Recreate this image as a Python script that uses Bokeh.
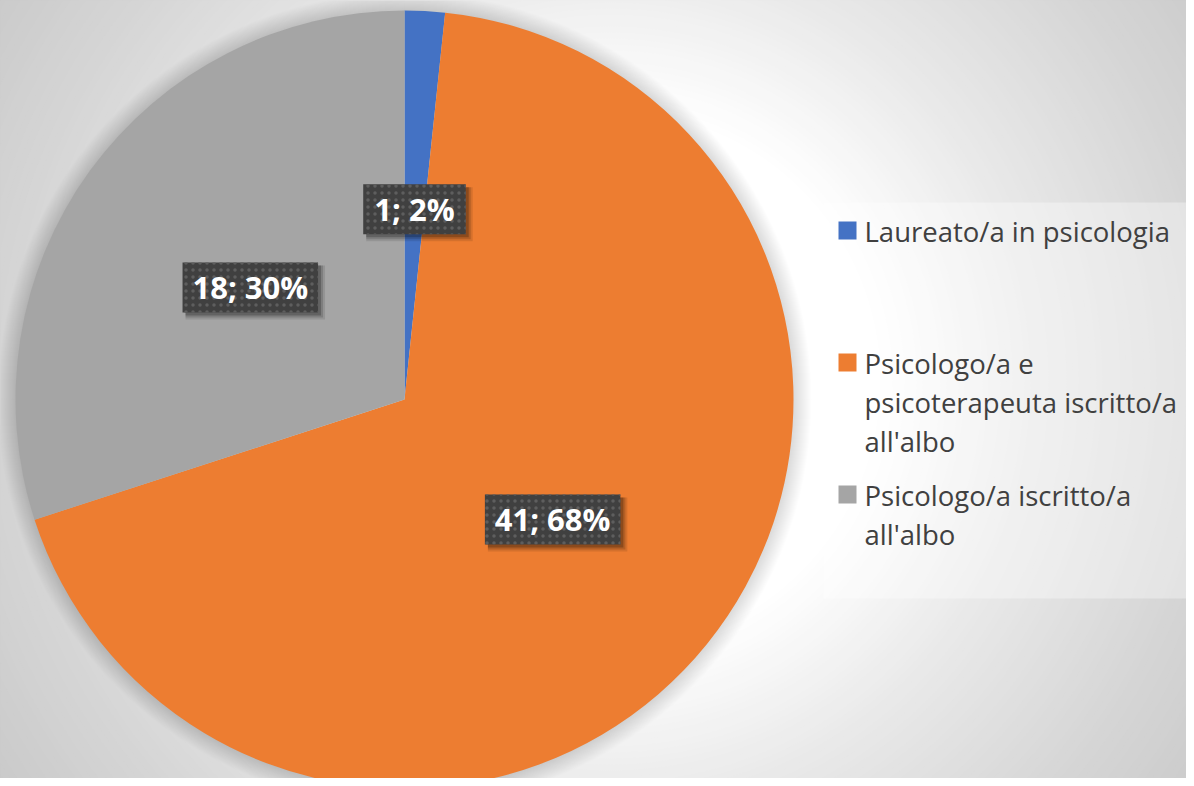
import numpy as np
from bokeh.plotting import figure
from bokeh.models import Range1d, ColumnDataSource
from bokeh.core.properties import value
from bokeh.embed import file_html
from bokeh.resources import INLINE

# ---------------- data ----------------
categories = [
    "Laureato/a in psicologia",
    "Psicologo/a e psicoterapeuta iscritto/a all'albo",
    "Psicologo/a iscritto/a all'albo",
]
counts = [1, 41, 18]
colors = ["#4472C4", "#ED7D31", "#A5A5A5"]
legend_lines = [
    ["Laureato/a in psicologia"],
    ["Psicologo/a e", "psicoterapeuta iscritto/a", "all'albo"],
    ["Psicologo/a iscritto/a", "all'albo"],
]

# ---------------- layout ----------------
PAGE_W, PAGE_H = 1194, 786
W, H = PAGE_W - 8, PAGE_H - 8


def Y(ry):
    # reference-picture y (down) -> data y (up)
    return PAGE_H - ry


p = figure(width=W, height=H, x_range=Range1d(0, W), y_range=Range1d(PAGE_H - H, PAGE_H),
           output_backend="svg", toolbar_location=None, min_border=0)
p.axis.visible = False
p.grid.visible = False
p.outline_line_color = None

# ---- background radial gradient (decoration) ----
gx, gy, gs = 610, 380, 600
d_pts = [0.0, 0.45, 0.70, 1.0, 1.2, 1.6]
c_pts = [255, 255, 234, 214, 203, 190]
ds = np.arange(1.6, 0.44, -0.01)
grays = np.interp(ds, d_pts, c_pts).round().astype(int)
bg_src = ColumnDataSource(dict(
    x=[gx] * len(ds), y=[Y(gy)] * len(ds), r=list(ds * gs),
    c=["#%02x%02x%02x" % (g, g, g) for g in grays]))
p.background_fill_color = "#bebebe"
p.border_fill_color = "#bebebe"
p.circle(x="x", y="y", radius="r", fill_color="c", line_color=None, source=bg_src)

# ---- pie ----
CX, CY, R = 404, 399, 389
total = sum(counts)
fr = np.array(counts) / total
cum = np.concatenate([[0], np.cumsum(fr)])
start = np.pi / 2 - 2 * np.pi * cum[:-1]
end = np.pi / 2 - 2 * np.pi * cum[1:]

# soft shadow around pie
for k in range(18, 0, -1):
    p.circle(x=CX, y=Y(CY), radius=R + k, fill_color="black", fill_alpha=0.006,
             line_color=None)

pie_src = ColumnDataSource(dict(start=start, end=end, color=colors, cat=categories))
p.wedge(x=CX, y=Y(CY), radius=R, start_angle="start", end_angle="end",
        direction="clock", fill_color="color", line_color=None, source=pie_src)

# ---- data labels ----
mid = 2 * np.pi * (cum[:-1] + cum[1:]) / 2  # clockwise from top
LR = 0.49 * R
lx = CX + LR * np.sin(mid)
ly = Y(CY - LR * np.cos(mid))
pct = [int(round(100 * c / total)) for c in counts]
labels = [f"{c}; {q}%" for c, q in zip(counts, pct)]
bw = [20 + 16.5 * len(t) for t in labels]
bh = [50] * len(labels)
lab_src = ColumnDataSource(dict(x=lx, y=ly, t=labels, w=bw, h=bh))

# label shadows
for off, grow, a in [(5, 4, 0.10), (4, 2, 0.15), (3, 0, 0.22)]:
    p.rect(x=lx + off, y=ly - off, width=[w + grow for w in bw], height=[h + grow for h in bh],
           width_units="screen", height_units="screen",
           fill_color="black", fill_alpha=a, line_color=None)

p.rect(x="x", y="y", width="w", height="h", width_units="screen", height_units="screen",
       fill_color="#404040", line_color=None, hatch_pattern="dot", hatch_color="#5e5e5e",
       hatch_scale=7, hatch_weight=2, source=lab_src)
p.text(x="x", y="y", text="t", text_color="white", text_font=value("Open Sans"),
       text_font_style="bold", text_font_size="31px", text_align="center",
       text_baseline="middle", source=lab_src)

# ---- legend ----
p.quad(left=823, right=PAGE_W, top=Y(202), bottom=Y(598), fill_color="white",
       fill_alpha=0.35, line_color=None)
sq_y = [230, 362, 494]
p.rect(x=847, y=[Y(v) for v in sq_y], width=18, height=18, fill_color=colors, line_color=None)
tx, ty, tt = [], [], []
for lines, sy in zip(legend_lines, sq_y):
    for i, ln in enumerate(lines):
        tx.append(864)
        ty.append(Y(sy + 1 + 39 * i))
        tt.append(ln)
p.text(x=tx, y=ty, text=tt, text_color="#404040", text_font=value("Open Sans"),
       text_font_size="27.5px", text_align="left", text_baseline="middle")

open("out.html", "w").write(file_html(p, INLINE))
